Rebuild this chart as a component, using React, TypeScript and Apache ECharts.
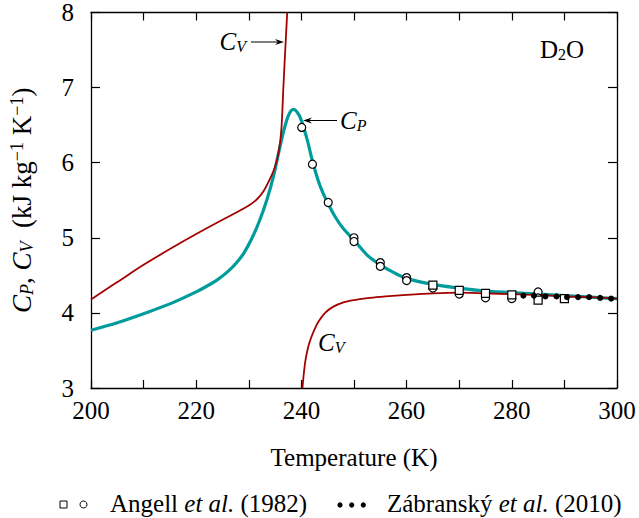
import React, { useEffect, useRef } from 'react';
import * as echarts from 'echarts';

const FONT = 'Liberation Serif, Times New Roman, serif';
const TEAL = '#009c9c';
const RED = '#a30000';

// C_P curve (teal)
const cpTemps = [200, 205, 210, 215, 220, 222, 224, 226, 227.5, 229, 230.5, 232, 233.5, 234.7, 235.7, 236.7, 237.6, 238.5, 239.5, 240.3, 241.2, 242.1, 243.2, 244.2, 245.1, 246.5, 248, 250, 252.5, 255, 257.5, 260, 265, 270, 275, 280, 285, 290, 295, 300];
const cpValues = [3.77, 3.87, 3.99, 4.12, 4.28, 4.355, 4.44, 4.55, 4.655, 4.79, 4.98, 5.22, 5.52, 5.82, 6.14, 6.44, 6.64, 6.71, 6.64, 6.50, 6.28, 6.02, 5.76, 5.58, 5.45, 5.27, 5.12, 4.97, 4.77, 4.64, 4.54, 4.46, 4.38, 4.33, 4.29, 4.27, 4.25, 4.23, 4.21, 4.19];

// C_V curve, low-temperature branch
const cvLowTemps = [200, 205, 210, 215, 220, 225, 228, 230, 231.5, 232.8, 234, 235, 235.7, 236.2, 236.57, 236.93, 237.3];
const cvLowValues = [4.18, 4.41, 4.64, 4.85, 5.05, 5.24, 5.35, 5.43, 5.51, 5.62, 5.78, 5.95, 6.15, 6.45, 7.0, 7.5, 8.0];

// C_V curve, high-temperature branch
const cvHighTemps = [240.2, 240.5, 240.8, 241.3, 241.8, 242.5, 243.2, 244.5, 246, 248, 250, 253, 256, 260, 265, 270, 275, 280, 285, 290, 295, 300];
const cvHighValues = [3.0, 3.22, 3.38, 3.55, 3.66, 3.78, 3.88, 4.00, 4.08, 4.14, 4.17, 4.20, 4.22, 4.24, 4.26, 4.27, 4.26, 4.25, 4.24, 4.22, 4.21, 4.19];

// Angell et al. (1982) — circles
const angellCircleTemps = [240.06, 242.1, 245.1, 250, 250, 255, 255, 260, 260, 265, 270, 275, 275, 280, 285, 285];
const angellCircleValues = [6.47, 5.98, 5.47, 5.0, 4.95, 4.67, 4.62, 4.47, 4.43, 4.33, 4.25, 4.22, 4.20, 4.19, 4.28, 4.20];

// Angell et al. (1982) — squares
const angellSquareTemps = [265, 270, 275, 280, 285, 290];
const angellSquareValues = [4.37, 4.30, 4.26, 4.24, 4.17, 4.19];

// Zábranský et al. (2010) — dots
const zabTemps = [282.2, 284.2, 286.4, 288.5, 290.5, 292.6, 294.7, 296.8, 298.9];
const zabValues = [4.23, 4.23, 4.22, 4.22, 4.21, 4.21, 4.21, 4.20, 4.19];

const zip = (a: number[], b: number[]) => a.map((x, i) => [x, b[i]]);

const richBase = {
  i: { fontFamily: FONT, fontSize: 25, fontStyle: 'italic', lineHeight: 26, color: '#000' },
  n: { fontFamily: FONT, fontSize: 25, lineHeight: 26, color: '#000' },
  s: { fontFamily: FONT, fontSize: 16, fontStyle: 'italic', lineHeight: 12, verticalAlign: 'bottom', color: '#000' },
  sn: { fontFamily: FONT, fontSize: 16, lineHeight: 12, verticalAlign: 'bottom', color: '#000' },
  sup: { fontFamily: FONT, fontSize: 16, lineHeight: 12, verticalAlign: 'top', color: '#000' },
};

const richY = {
  i: { fontFamily: FONT, fontSize: 27, fontStyle: 'italic', lineHeight: 28, color: '#000' },
  n: { fontFamily: FONT, fontSize: 27, lineHeight: 28, color: '#000' },
  s: { fontFamily: FONT, fontSize: 18, fontStyle: 'italic', lineHeight: 13, verticalAlign: 'bottom', color: '#000' },
  sup: { fontFamily: FONT, fontSize: 18, lineHeight: 13, verticalAlign: 'top', color: '#000' },
};

export default function App() {
  const ref = useRef<HTMLDivElement>(null);
  useEffect(() => {
    const chart = echarts.init(ref.current!, undefined, { renderer: 'svg' });
    const axisLine = { show: true, onZero: false, lineStyle: { color: '#000', width: 1.3 } };
    const tick = { show: true, inside: true, length: 8, lineStyle: { color: '#000', width: 1.2 } };
    const minor = { show: true, splitNumber: 2, length: 8, lineStyle: { color: '#000', width: 1.2 } };
    const labelStyle = { color: '#000', fontSize: 25, fontFamily: FONT };

    const arrow = (x1: number, x2: number, y: number, dir: number) => [
      { type: 'line', shape: { x1, y1: y, x2: x2 - dir * 4, y2: y }, style: { stroke: '#000', lineWidth: 1 } },
      { type: 'polygon', shape: { points: [[x2, y], [x2 - dir * 9, y - 3], [x2 - dir * 6, y], [x2 - dir * 9, y + 3]] }, style: { fill: '#000' } },
    ];

    const option: any = {
      animation: false,
      backgroundColor: '#fff',
      grid: { left: 90, right: 22, top: 12, bottom: 130, containLabel: false },
      xAxis: [
        {
          type: 'value', min: 200, max: 300, interval: 20, position: 'bottom',
          axisLine, axisTick: tick, minorTick: minor,
          splitLine: { show: false }, minorSplitLine: { show: false },
          axisLabel: { ...labelStyle, margin: 10 },
          name: 'Temperature (K)', nameLocation: 'middle', nameGap: 57,
          nameTextStyle: { ...labelStyle },
        },
        {
          type: 'value', min: 200, max: 300, interval: 20, position: 'top',
          axisLine, axisTick: tick, minorTick: minor,
          splitLine: { show: false }, axisLabel: { show: false },
        },
      ],
      yAxis: [
        {
          type: 'value', min: 3, max: 8, interval: 1, position: 'left',
          axisLine, axisTick: { ...tick, length: 9 },
          splitLine: { show: false },
          axisLabel: { ...labelStyle, margin: 17 },
          name: '{i|C}{s|P}{n|, }{i|C}{s|V}{n|  (kJ kg}{sup|−1}{n| K}{sup|−1}{n|)}',
          nameLocation: 'middle', nameRotate: 90, nameGap: 55,
          nameTextStyle: { rich: richY },
        },
        {
          type: 'value', min: 3, max: 8, interval: 1, position: 'right',
          axisLine, axisTick: { ...tick, length: 9 },
          splitLine: { show: false }, axisLabel: { show: false },
        },
      ],
      series: [
        {
          name: 'C_P', type: 'line', data: zip(cpTemps, cpValues), showSymbol: false,
          smooth: 0.3, lineStyle: { color: TEAL, width: 3.2 }, z: 2,
        },
        {
          name: 'C_V low', type: 'line', data: zip(cvLowTemps, cvLowValues), showSymbol: false,
          smooth: 0.3, lineStyle: { color: RED, width: 1.8 }, z: 3,
        },
        {
          name: 'C_V high', type: 'line', data: zip(cvHighTemps, cvHighValues), showSymbol: false,
          smooth: 0.3, lineStyle: { color: RED, width: 1.8 }, z: 3,
        },
        {
          name: 'Angell circles', type: 'scatter', data: zip(angellCircleTemps, angellCircleValues),
          symbol: 'circle', symbolSize: 8, itemStyle: { color: '#fff', borderColor: '#000', borderWidth: 1.2, opacity: 1 }, z: 5,
        },
        {
          name: 'Angell squares', type: 'scatter', data: zip(angellSquareTemps, angellSquareValues),
          symbol: 'rect', symbolSize: 8, itemStyle: { color: '#fff', borderColor: '#000', borderWidth: 1.2, opacity: 1 }, z: 5,
        },
        {
          name: 'Zabransky', type: 'scatter', data: zip(zabTemps, zabValues),
          symbol: 'circle', symbolSize: 6, itemStyle: { color: '#000', opacity: 1 }, z: 6,
        },
      ],
      graphic: [
        { type: 'text', x: 246, y: 41, style: { text: '{i|C}{s|V}', rich: richBase, align: 'right', verticalAlign: 'middle' } },
        ...arrow(251, 284, 42, 1),
        { type: 'text', x: 340, y: 120, style: { text: '{i|C}{s|P}', rich: richBase, align: 'left', verticalAlign: 'middle' } },
        ...arrow(337, 303, 120.5, -1),
        { type: 'text', x: 318, y: 342, style: { text: '{i|C}{s|V}', rich: richBase, align: 'left', verticalAlign: 'middle' } },
        { type: 'text', x: 540, y: 49, style: { text: '{n|D}{sn|2}{n|O}', rich: richBase, align: 'left', verticalAlign: 'middle' } },
        { type: 'rect', shape: { x: 60, y: 501, width: 7, height: 7 }, style: { fill: '#fff', stroke: '#000', lineWidth: 1 } },
        { type: 'circle', shape: { cx: 83.5, cy: 504.5, r: 3.5 }, style: { fill: '#fff', stroke: '#000', lineWidth: 1 } },
        {
          type: 'text', x: 110, y: 503,
          style: { text: '{n|Angell }{i|et al.}{n| (1982)}', rich: richBase, align: 'left', verticalAlign: 'middle' },
        },
        { type: 'circle', shape: { cx: 340, cy: 505, r: 2.6 }, style: { fill: '#000' } },
        { type: 'circle', shape: { cx: 351.7, cy: 505, r: 2.6 }, style: { fill: '#000' } },
        { type: 'circle', shape: { cx: 363.3, cy: 505, r: 2.6 }, style: { fill: '#000' } },
        {
          type: 'text', x: 387, y: 503,
          style: { text: '{n|Zábranský }{i|et al.}{n| (2010)}', rich: richBase, align: 'left', verticalAlign: 'middle' },
        },
      ],
    };
    chart.setOption(option);
    return () => chart.dispose();
  }, []);
  return <div ref={ref} style={{ position: 'absolute', left: 0, top: 0, width: 639, height: 518 }} />;
}
